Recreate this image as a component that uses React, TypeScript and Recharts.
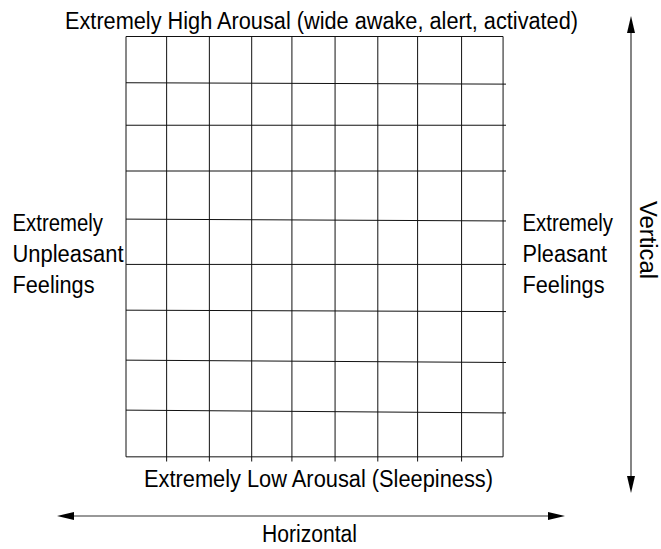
import React from "react";
import { LineChart, Line, XAxis, YAxis } from "recharts";

// Grid geometry (in grid units, 0..9 on each axis)
const columnLines = [0.97, 1.99, 3.0, 3.96, 4.99, 6.01, 6.96, 8.01];
const rowLinesLeft = [8.01, 7.1, 6.12, 5.09, 4.12, 3.14, 2.07, 1.0];
const rowLinesRight = [7.98, 7.1, 6.12, 5.05, 4.12, 3.11, 2.02, 0.94];
const gridSize = 9;
const rowLineEnd = 9.07;
const columnLineStart = -0.1;

const topLabel = "Extremely High Arousal (wide awake, alert, activated)";
const bottomLabel = "Extremely Low Arousal (Sleepiness)";
const leftLabel = ["Extremely", "Unpleasant", "Feelings"];
const rightLabel = ["Extremely", "Pleasant", "Feelings"];
const horizontalLabel = "Horizontal";
const verticalLabel = "Vertical";

const borderData = [
  { x: 0, y: 0 },
  { x: gridSize, y: 0 },
  { x: gridSize, y: gridSize },
  { x: 0, y: gridSize },
  { x: 0, y: 0 },
];

const FONT = "'Liberation Sans', Arial, Helvetica, sans-serif";
const FS = 23;
const widthOf: Record<string, number> = {
  Extremely: 90.5,
  Unpleasant: 111,
  Feelings: 82,
  Pleasant: 84.5,
};

export default function App() {
  return (
    <div style={{ position: "absolute", left: 0, top: 0, width: 661, height: 549, background: "#fff" }}>
      <LineChart
        width={661}
        height={549}
        margin={{ top: 36.5, right: 155, bottom: 87.5, left: 126 }}
      >
        <XAxis type="number" dataKey="x" domain={[0, rowLineEnd]} hide />
        <YAxis type="number" dataKey="y" domain={[columnLineStart, gridSize]} hide />
        <Line
          data={borderData}
          dataKey="y"
          type="linear"
          stroke="#111"
          strokeWidth={1}
          dot={false}
          isAnimationActive={false}
        />
        {columnLines.map((c, i) => (
          <Line
            key={"c" + i}
            data={[
              { x: c, y: columnLineStart },
              { x: c, y: gridSize },
            ]}
            dataKey="y"
            type="linear"
            stroke="#111"
            strokeWidth={1}
            dot={false}
            isAnimationActive={false}
          />
        ))}
        {rowLinesLeft.map((l, i) => (
          <Line
            key={"r" + i}
            data={[
              { x: 0, y: l },
              { x: rowLineEnd, y: rowLinesRight[i] },
            ]}
            dataKey="y"
            type="linear"
            stroke="#111"
            strokeWidth={1}
            dot={false}
            isAnimationActive={false}
          />
        ))}
        <g fontFamily={FONT} fontSize={FS} fill="#000">
          <text x={321.5} y={28.5} textAnchor="middle" textLength={513} lengthAdjust="spacingAndGlyphs">{topLabel}</text>
          <text x={318.5} y={487} textAnchor="middle" textLength={349} lengthAdjust="spacingAndGlyphs">{bottomLabel}</text>
          <text x={309.5} y={542} textAnchor="middle" textLength={95} lengthAdjust="spacingAndGlyphs">{horizontalLabel}</text>
          {leftLabel.map((t, i) => (
            <text key={"l" + i} x={12.5} y={231 + i * 31} textAnchor="start" textLength={widthOf[t]} lengthAdjust="spacingAndGlyphs">{t}</text>
          ))}
          {rightLabel.map((t, i) => (
            <text key={"rl" + i} x={522.5} y={231 + i * 31} textAnchor="start" textLength={widthOf[t]} lengthAdjust="spacingAndGlyphs">{t}</text>
          ))}
          <text x={640} y={240} textAnchor="middle" transform="rotate(90, 640, 240)" textLength={78} lengthAdjust="spacingAndGlyphs">{verticalLabel}</text>
        </g>
        {/* Horizontal double arrow */}
        <line x1={70} y1={516} x2={552} y2={516} stroke="#333" strokeWidth={1.2} />
        <path d="M57,516 L74,512 L74,520 Z" fill="#000" />
        <path d="M565,516 L548,512 L548,520 Z" fill="#000" />
        {/* Vertical double arrow */}
        <line x1={631} y1={28} x2={631} y2={482} stroke="#333" strokeWidth={1.2} />
        <path d="M631,16 L627,33 L635,33 Z" fill="#000" />
        <path d="M631,493 L627,476 L635,476 Z" fill="#000" />
      </LineChart>
    </div>
  );
}
